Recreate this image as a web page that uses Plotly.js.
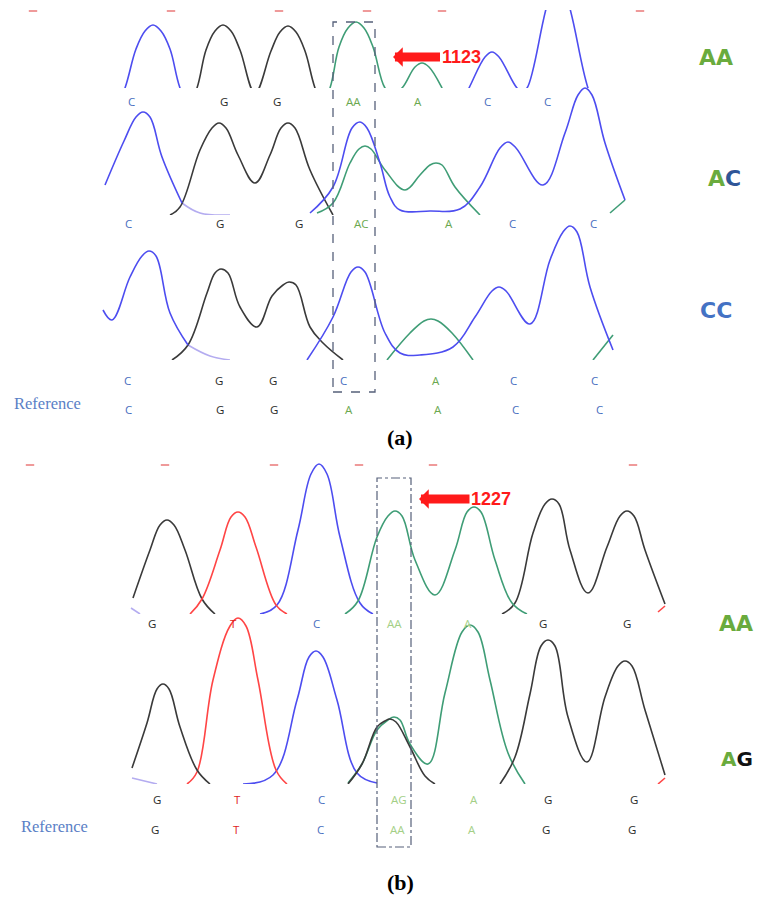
<!DOCTYPE html>
<html>
<head>
<meta charset="utf-8">
<script src="https://cdn.plot.ly/plotly-3.0.1.min.js"></script>
<style>html,body{margin:0;padding:0;background:#fff;}#chart{width:757px;height:899px;}</style>
</head>
<body>
<div id="chart"></div>
<script>
// ---------- DATA (scan position, signal intensity above baseline) ----------
// Panel (a) row 1 : genotype AA
const a1BlueX  = [112,125,136,145,153,161,170,180,194,null,456,469,485,492,499,517,522,527,549,558,567,588,601];
const a1BlueY  = [-30,0,39,57,63,57,39,0,-30,null,-25,0,31,36,31,0,-3,0,89,105,89,0,-30];
const a1BlackX = [184,197,206,215,223,231,240,255,271,280,288,296,305,315,328];
const a1BlackY = [-30,0,38,57,63,57,38,-5,37,56,62,56,37,0,-30];
const a1GreenX = [317,330,339,348,356,364,373,385,393,402,415,422,429,442,455];
const a1GreenY = [-30,0,41,60,66,60,41,0,-6,0,21,25,21,0,-30];
// Panel (a) row 2 : genotype AC
const a2BlueX  = [105,124,136,143,150,162,182,null,310,333,352,360,367,380,390,400,430,460,480,500,508,516,543,565,578,585,592,605,625];
const a2BlueY  = [30,74,98,103,98,58,12,null,2,28,87,93,87,52,18,5,4,6,28,67,73,67,30,82,120,127,120,72,15];
const a2TailX  = [182,200,230];
const a2TailY  = [12,2,0];
const a2BlackX = [170,180,200,212,219,226,238,255,270,281,288,295,310,333];
const a2BlackY = [0,8,65,87,92,87,60,32,60,87,92,87,45,0];
const a2GreenX = [317,333,350,359,365,371,385,405,420,430,436,442,455,480,null,610,625];
const a2GreenY = [2,12,52,66,69,66,45,25,40,50,52,50,28,0,null,2,15];
// Panel (a) row 3 : genotype CC
const a3BlueX  = [103,112,130,142,149,156,170,188,null,307,333,351,358,365,385,400,420,453,475,492,499,506,530,550,563,570,577,590,613];
const a3BlueY  = [50,40,83,104,109,104,47,15,null,0,43,88,93,88,27,7,5,13,43,69,73,69,36,100,128,134,128,73,10];
const a3TailX  = [188,210,230];
const a3TailY  = [15,4,0];
const a3BlackX = [172,188,207,215,221,228,240,257,272,283,289,296,310,323,343];
const a3BlackY = [0,15,67,87,91,87,53,33,64,75,78,75,33,17,0];
const a3GreenX = [387,410,424,431,438,452,473,null,593,613];
const a3GreenY = [0,27,39,41,39,27,0,null,0,25];
// Panel (b) row 1 : genotype AA
const b1FaintX = [131,140];
const b1FaintY = [6,0];
const b1BlueX  = [260,277,298,311,319,327,340,360,373];
const b1BlueY  = [0,9,84,140,150,140,77,11,0];
const b1BlackX = [133,150,160,167,174,185,202,215,null,502,515,533,545,552,559,570,588,607,620,627,634,645,665];
const b1BlackY = [16,64,89,94,89,64,15,0,null,0,11,81,110,115,110,64,21,67,98,103,98,64,10];
const b1RedX   = [190,202,220,231,238,245,256,276,287,null,658,665];
const b1RedY   = [0,15,64,97,102,97,67,9,0,null,2,8];
const b1GreenX = [345,358,377,388,395,402,415,435,455,467,474,481,495,512,527];
const b1GreenY = [0,13,77,98,103,98,54,19,64,102,107,102,54,11,0];
// Panel (b) row 2 : genotype AG
const b2FaintX = [132,157];
const b2FaintY = [6,0];
const b2BlueX  = [243,273,297,309,316,323,337,357,377];
const b2BlueY  = [0,9,84,127,133,127,84,11,1];
const b2BlackX = [132,147,157,163,169,180,197,210,null,348,362,377,385,390,396,410,425,435,null,500,515,530,541,548,555,568,587,605,618,625,632,645,665];
const b2BlackY = [16,61,95,100,95,57,14,0,null,0,20,57,63,65,62,37,8,0,null,0,27,90,138,144,138,67,22,87,118,123,118,74,9];
const b2RedX   = [187,197,213,230,238,246,258,276,287,null,658,665];
const b2RedY   = [0,12,104,158,166,158,104,14,0,null,0,6];
const b2GreenX = [348,362,377,388,394,400,410,428,445,462,470,478,490,508,525];
const b2GreenY = [1,20,54,64,67,64,40,20,91,152,159,152,104,31,0];

// base-call labels
const a1Calls = ['C','G','G','AA','A','C','C'];
const a1CallX = [131,224,277,353,418,487,547];
const a2Calls = ['C','G','G','AC','A','C','C'];
const a2CallX = [128,220,299,361,449,512,593];
const a3Calls = ['C','G','G','C','A','C','C'];
const a3CallX = [127,219,273,343,436,513,594];
const aRefCalls = ['C','G','G','A','A','C','C'];
const aRefX = [128,220,274,349,438,515,599];
const b1Calls = ['G','T','C','AA','A','G','G'];
const b1CallX = [152,233,316,394,468,543,627];
const b2Calls = ['G','T','C','AG','A','G','G'];
const b2CallX = [157,237,321,399,474,548,634];
const bRefCalls = ['G','T','C','AA','A','G','G'];
const bRefX = [155,236,320,397,472,546,632];

// scale tick marks (top of each panel)
const aTickX = [33,171,279,367,442,640];
const bTickX = [30,165,274,359,433,633];

// ---------- LAYOUT HELPERS ----------
const H = 899;
const py = p => 1 - p / H;
const rows = [ // baseline / top in pixels for each trace row
  {base: 88,  top: 10},
  {base: 215, top: 80},
  {base: 360, top: 220},
  {base: 614, top: 462},
  {base: 784, top: 615}
];
const COL = {blue:'#4d4df0', black:'#3a3a3a', green:'#3f9d76', red:'#ff4545', faint:'#b4acf0'};
const LETTER = {C:'#4a6fc0', G:'#2a2a2a', A:'#6aa84f', T:'#e02424'};

const traces = [];
function addLine(x, y, color, row, w) {
  traces.push({x: x, y: y, type: 'scatter', mode: 'lines', xaxis: 'x',
    yaxis: row === 0 ? 'y' : 'y' + (row + 1),
    line: {color: color, width: w || 1.6, shape: 'spline', smoothing: 1.1},
    connectgaps: false, hoverinfo: 'skip', showlegend: false});
}
addLine(a1BlueX, a1BlueY, COL.blue, 0);
addLine(a1BlackX, a1BlackY, COL.black, 0);
addLine(a1GreenX, a1GreenY, COL.green, 0);
addLine(a2TailX, a2TailY, COL.faint, 1);
addLine(a2BlackX, a2BlackY, COL.black, 1);
addLine(a2GreenX, a2GreenY, COL.green, 1);
addLine(a2BlueX, a2BlueY, COL.blue, 1);
addLine(a3TailX, a3TailY, COL.faint, 2);
addLine(a3BlackX, a3BlackY, COL.black, 2);
addLine(a3GreenX, a3GreenY, COL.green, 2);
addLine(a3BlueX, a3BlueY, COL.blue, 2);
addLine(b1FaintX, b1FaintY, COL.faint, 3);
addLine(b1BlueX, b1BlueY, COL.blue, 3);
addLine(b1BlackX, b1BlackY, COL.black, 3);
addLine(b1RedX, b1RedY, COL.red, 3);
addLine(b1GreenX, b1GreenY, COL.green, 3);
addLine(b2FaintX, b2FaintY, COL.faint, 4);
addLine(b2BlueX, b2BlueY, COL.blue, 4);
addLine(b2RedX, b2RedY, COL.red, 4);
addLine(b2GreenX, b2GreenY, COL.green, 4);
addLine(b2BlackX, b2BlackY, COL.black, 4);

// tick marks
const tickMarker = {symbol: 'line-ew-open', size: 6, color: '#ef9a9a', line: {color: '#ef9a9a', width: 2}};
traces.push({x: aTickX, y: aTickX.map(() => 77), type: 'scatter', mode: 'markers', xaxis: 'x', yaxis: 'y',
  cliponaxis: false, marker: tickMarker, hoverinfo: 'skip', showlegend: false});
traces.push({x: bTickX, y: bTickX.map(() => 149), type: 'scatter', mode: 'markers', xaxis: 'x', yaxis: 'y4',
  cliponaxis: false, marker: tickMarker, hoverinfo: 'skip', showlegend: false});

const annotations = [];
function callLabels(calls, xs, ypx, light) {
  calls.forEach((c, i) => {
    let col = LETTER[c[0]];
    if (light && c[0] === 'A') col = '#a3cf86';
    annotations.push({x: xs[i], y: py(ypx), xref: 'x', yref: 'paper', text: c, showarrow: false,
      xanchor: 'center', yanchor: 'middle',
      font: {family: 'Open Sans, sans-serif', size: 11.5, color: col}});
  });
}
callLabels(a1Calls, a1CallX, 101, false);
callLabels(a2Calls, a2CallX, 223, false);
callLabels(a3Calls, a3CallX, 380, false);
callLabels(aRefCalls, aRefX, 409, false);
callLabels(b1Calls, b1CallX, 623, true);
callLabels(b2Calls, b2CallX, 799, true);
callLabels(bRefCalls, bRefX, 829, true);

const refFont = {family: 'Liberation Serif, serif', size: 16.5, color: '#5b7fc6'};
annotations.push({x: 12, y: py(404), xref: 'x', yref: 'paper', text: 'Reference', showarrow: false, xanchor: 'left', yanchor: 'middle', font: refFont});
annotations.push({x: 19, y: py(826), xref: 'x', yref: 'paper', text: 'Reference', showarrow: false, xanchor: 'left', yanchor: 'middle', font: refFont});

const GREEN = '#6aab3d';
function geno(text, x, ypx, anchor, size) {
  annotations.push({x: x, y: py(ypx), xref: 'x', yref: 'paper', text: '<b>' + text + '</b>', showarrow: false,
    xanchor: anchor || 'center', yanchor: 'middle',
    font: {family: 'DejaVu Sans, sans-serif', size: size || 22, color: GREEN}});
}
geno('<span style="color:' + GREEN + '">AA</span>', 716, 58);
geno('<span style="color:' + GREEN + '">A</span><span style="color:#2f5597">C</span>', 724, 178);
geno('<span style="color:#4472c4">CC</span>', 716, 310);
geno('<span style="color:' + GREEN + '">AA</span>', 736, 623);
geno('<span style="color:' + GREEN + '">A</span><span style="color:#111">G</span>', 755, 759, 'right', 20);

// arrows with position numbers
function posArrow(label, tipX, tipYpx, ax) {
  annotations.push({x: tipX, y: py(tipYpx), xref: 'x', yref: 'paper', ax: ax, ay: 0,
    text: '<b>' + label + '</b>', showarrow: true, arrowhead: 1, arrowsize: 0.36, arrowwidth: 9,
    arrowcolor: '#ff1a1a', standoff: 0, startstandoff: 0,
    font: {family: 'Liberation Sans, Arial, sans-serif', size: 18, color: '#ff1a1a'}});
}
posArrow('1123', 393, 57, 68);
posArrow('1227', 419, 499, 72);

const panelFont = {family: 'Liberation Serif, serif', size: 22, color: '#000'};
annotations.push({x: 400, y: py(437), xref: 'x', yref: 'paper', text: '<b>(a)</b>', showarrow: false, xanchor: 'center', yanchor: 'middle', font: panelFont});
annotations.push({x: 400, y: py(882), xref: 'x', yref: 'paper', text: '<b>(b)</b>', showarrow: false, xanchor: 'center', yanchor: 'middle', font: panelFont});

const shapes = [
  {type: 'rect', xref: 'x', yref: 'paper', x0: 333, x1: 375, y0: py(392), y1: py(22),
    line: {color: '#56607a', width: 1.3, dash: 'dash'}},
  {type: 'rect', xref: 'x', yref: 'paper', x0: 377, x1: 411, y0: py(847), y1: py(478),
    line: {color: '#56607a', width: 1.2, dash: 'dashdot'}}
];

const layout = {
  width: 757, height: 899,
  margin: {l: 0, r: 0, t: 0, b: 0, pad: 0},
  paper_bgcolor: '#ffffff', plot_bgcolor: 'rgba(0,0,0,0)',
  showlegend: false,
  xaxis: {range: [0, 757], domain: [0, 1], visible: false, fixedrange: true, anchor: 'y'},
  annotations: annotations,
  shapes: shapes
};
rows.forEach((r, i) => {
  const key = i === 0 ? 'yaxis' : 'yaxis' + (i + 1);
  layout[key] = {domain: [py(r.base), py(r.top)], range: [0, r.base - r.top], visible: false,
    fixedrange: true, anchor: 'x'};
});

Plotly.newPlot('chart', traces, layout, {staticPlot: true, displayModeBar: false});
</script>
</body>
</html>
